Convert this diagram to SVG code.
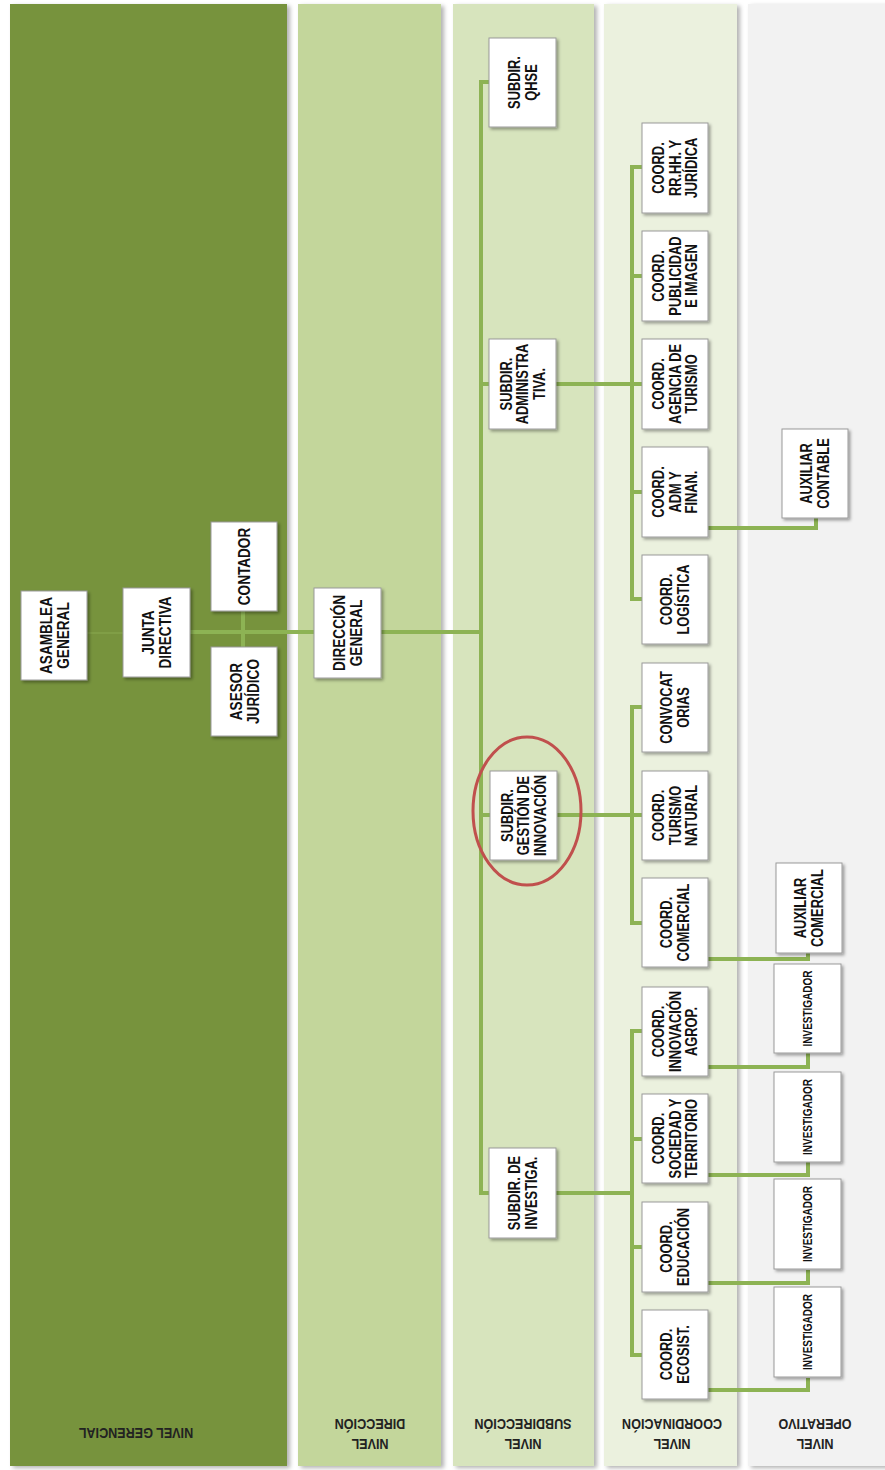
<svg xmlns="http://www.w3.org/2000/svg" width="885" height="1470" viewBox="0 0 885 1470">
<defs>
<filter id="sh" x="-10%" y="-10%" width="130%" height="130%">
<feDropShadow dx="2" dy="2" stdDeviation="1.5" flood-color="#000" flood-opacity="0.35"/>
</filter>
<filter id="shc" x="-5%" y="-1%" width="115%" height="103%">
<feDropShadow dx="3" dy="2" stdDeviation="2" flood-color="#000" flood-opacity="0.3"/>
</filter>
</defs>
<style>
.box{fill:#fff;stroke:#9a9a9a;stroke-width:1;filter:url(#sh)}
.t{font-family:"Liberation Sans",Arial,sans-serif;font-weight:bold;font-size:16.5px;fill:#111;text-anchor:middle;dominant-baseline:central}
.tb{font-size:17px}
.ts{font-size:12.5px}
.lab{font-family:"Liberation Sans",Arial,sans-serif;font-weight:bold;font-size:14px;fill:#222;text-anchor:middle;dominant-baseline:central}
.c{fill:none;stroke:#8db354;stroke-width:4}
.cf{fill:none;stroke:#8aa84f;stroke-width:1.5;opacity:0.7}
</style>

<g id="columns">
<rect x="10" y="4" width="277" height="1462" fill="#77933c" filter="url(#shc)"/>
<rect x="298" y="4" width="143" height="1462" fill="#c3d69b" filter="url(#shc)"/>
<rect x="453" y="4" width="141" height="1462" fill="#d7e4bd" filter="url(#shc)"/>
<rect x="604" y="4" width="133" height="1462" fill="#ebf1de" filter="url(#shc)"/>
<rect x="748" y="4" width="140" height="1462" fill="#f2f2f2" filter="url(#shc)"/>
</g>

<g id="level-labels">
<g transform="translate(136,1433) rotate(180) scale(0.9,1)"><text class="lab" x="0" y="0">NIVEL GERENCIAL</text></g>
<g transform="translate(370,1434) rotate(180) scale(0.9,1)"><text class="lab" x="0" y="-10">NIVEL</text><text class="lab" x="0" y="10">DIRECCIÓN</text></g>
<g transform="translate(523,1434) rotate(180) scale(0.9,1)"><text class="lab" x="0" y="-10">NIVEL</text><text class="lab" x="0" y="10">SUBDIRECCIÓN</text></g>
<g transform="translate(672,1434) rotate(180) scale(0.9,1)"><text class="lab" x="0" y="-10">NIVEL</text><text class="lab" x="0" y="10">COORDINACIÓN</text></g>
<g transform="translate(815,1434) rotate(180) scale(0.9,1)"><text class="lab" x="0" y="-10">NIVEL</text><text class="lab" x="0" y="10">OPERATIVO</text></g>
</g>

<g id="connectors">
<path class="cf" d="M87,633 H123"/>
<path class="c" d="M190,632 H481"/>
<path class="c" d="M243,611 V647"/>
<path class="c" d="M489,82 H481 V1193 H489"/>
<path class="c" d="M481,384 H489 M481,815 H490"/>
<path class="c" d="M556,384 H632"/>
<path class="c" d="M642,167 H632 V599 H642 M632,276 H642 M632,492 H642 M632,384 H642"/>
<path class="c" d="M557,815 H642"/>
<path class="c" d="M642,707 H632 V923 H642"/>
<path class="c" d="M556,1193 H632"/>
<path class="c" d="M642,1031 H632 V1355 H642 M632,1139 H642 M632,1247 H642"/>
<path class="c" d="M708,528 H816 V518"/>
<path class="c" d="M708,959 H808 V953"/>
<path class="c" d="M708,1067 H808 V1053"/>
<path class="c" d="M708,1175 H808 V1162"/>
<path class="c" d="M708,1283 H808 V1270"/>
<path class="c" d="M708,1390 H808 V1378"/>
</g>

<g id="asamblea"><rect class="box" x="21" y="591" width="66" height="89"/>
<g transform="translate(54,635.5) rotate(-90) scale(0.8,1)"><text class="t tb" y="-8.5">ASAMBLEA</text><text class="t tb" y="8.5">GENERAL</text></g></g>

<g id="junta"><rect class="box" x="123" y="588" width="67" height="89"/>
<g transform="translate(156.5,632.5) rotate(-90) scale(0.8,1)"><text class="t tb" y="-8.5">JUNTA</text><text class="t tb" y="8.5">DIRECTIVA</text></g></g>

<g id="contador"><rect class="box" x="211" y="522" width="66" height="89"/>
<g transform="translate(244,566.5) rotate(-90) scale(0.8,1)"><text class="t tb" y="0">CONTADOR</text></g></g>

<g id="asesor"><rect class="box" x="211" y="647" width="66" height="89"/>
<g transform="translate(244,691.5) rotate(-90) scale(0.8,1)"><text class="t tb" y="-8.5">ASESOR</text><text class="t tb" y="8.5">JURÍDICO</text></g></g>

<g id="direccion"><rect class="box" x="314" y="588" width="67" height="90"/>
<g transform="translate(347.5,633) rotate(-90) scale(0.8,1)"><text class="t tb" y="-8.5">DIRECCIÓN</text><text class="t tb" y="8.5">GENERAL</text></g></g>

<g id="subdir-qhse"><rect class="box" x="489" y="38" width="67" height="89"/>
<g transform="translate(522.5,82.5) rotate(-90) scale(0.78,1)"><text class="t" y="-8.5">SUBDIR.</text><text class="t" y="8.5">QHSE</text></g></g>

<g id="subdir-admin"><rect class="box" x="489" y="339" width="67" height="90"/>
<g transform="translate(522.5,384) rotate(-90) scale(0.78,1)"><text class="t" y="-16.5">SUBDIR.</text><text class="t" y="0">ADMINISTRA</text><text class="t" y="16.5">TIVA.</text></g></g>

<g id="coord-rrhh"><rect class="box" x="642" y="123" width="66" height="90"/>
<g transform="translate(675,168) rotate(-90) scale(0.78,1)"><text class="t" y="-16.5">COORD.</text><text class="t" y="0">RR.HH. Y</text><text class="t" y="16.5">JURÍDICA</text></g></g>

<g id="coord-publicidad"><rect class="box" x="642" y="231" width="66" height="90"/>
<g transform="translate(675,276) rotate(-90) scale(0.78,1)"><text class="t" y="-16.5">COORD.</text><text class="t" y="0">PUBLICIDAD</text><text class="t" y="16.5">E IMAGEN</text></g></g>

<g id="coord-agencia"><rect class="box" x="642" y="339" width="66" height="90"/>
<g transform="translate(675,384) rotate(-90) scale(0.78,1)"><text class="t" y="-16.5">COORD.</text><text class="t" y="0">AGENCIA DE</text><text class="t" y="16.5">TURISMO</text></g></g>

<g id="coord-adm"><rect class="box" x="642" y="447" width="66" height="90"/>
<g transform="translate(675,492) rotate(-90) scale(0.78,1)"><text class="t" y="-16.5">COORD.</text><text class="t" y="0">ADM Y</text><text class="t" y="16.5">FINAN.</text></g></g>

<g id="coord-logistica"><rect class="box" x="642" y="555" width="66" height="89"/>
<g transform="translate(675,599.5) rotate(-90) scale(0.78,1)"><text class="t" y="-8.5">COORD.</text><text class="t" y="8.5">LOGÍSTICA</text></g></g>

<g id="aux-contable"><rect class="box" x="782" y="429" width="66" height="89"/>
<g transform="translate(815,473.5) rotate(-90) scale(0.78,1)"><text class="t" y="-8.5">AUXILIAR</text><text class="t" y="8.5">CONTABLE</text></g></g>

<g id="subdir-gestion"><rect class="box" x="490" y="771" width="67" height="89"/>
<g transform="translate(523.5,815.5) rotate(-90) scale(0.78,1)"><text class="t" y="-16.5">SUBDIR.</text><text class="t" y="0">GESTIÓN DE</text><text class="t" y="16.5">INNOVACIÓN</text></g></g>

<g id="convocatorias"><rect class="box" x="642" y="663" width="66" height="89"/>
<g transform="translate(675,707.5) rotate(-90) scale(0.78,1)"><text class="t" y="-8.5">CONVOCAT</text><text class="t" y="8.5">ORIAS</text></g></g>

<g id="coord-turismo"><rect class="box" x="642" y="771" width="66" height="89"/>
<g transform="translate(675,815.5) rotate(-90) scale(0.78,1)"><text class="t" y="-16.5">COORD.</text><text class="t" y="0">TURISMO</text><text class="t" y="16.5">NATURAL</text></g></g>

<g id="coord-comercial"><rect class="box" x="642" y="878" width="66" height="89"/>
<g transform="translate(675,922.5) rotate(-90) scale(0.78,1)"><text class="t" y="-8.5">COORD.</text><text class="t" y="8.5">COMERCIAL</text></g></g>

<g id="aux-comercial"><rect class="box" x="776" y="863" width="66" height="90"/>
<g transform="translate(809,908) rotate(-90) scale(0.78,1)"><text class="t" y="-8.5">AUXILIAR</text><text class="t" y="8.5">COMERCIAL</text></g></g>

<g id="investigador-1"><rect class="box" x="774" y="964" width="67" height="89"/>
<g transform="translate(807.5,1008.5) rotate(-90) scale(0.8,1)"><text class="t ts" y="0">INVESTIGADOR</text></g></g>

<g id="investigador-2"><rect class="box" x="774" y="1072" width="67" height="90"/>
<g transform="translate(807.5,1117) rotate(-90) scale(0.8,1)"><text class="t ts" y="0">INVESTIGADOR</text></g></g>

<g id="investigador-3"><rect class="box" x="774" y="1179" width="67" height="90"/>
<g transform="translate(807.5,1224) rotate(-90) scale(0.8,1)"><text class="t ts" y="0">INVESTIGADOR</text></g></g>

<g id="investigador-4"><rect class="box" x="774" y="1287" width="67" height="90"/>
<g transform="translate(807.5,1332) rotate(-90) scale(0.8,1)"><text class="t ts" y="0">INVESTIGADOR</text></g></g>

<g id="coord-innovacion"><rect class="box" x="642" y="987" width="66" height="89"/>
<g transform="translate(675,1031.5) rotate(-90) scale(0.78,1)"><text class="t" y="-16.5">COORD.</text><text class="t" y="0">INNOVACIÓN</text><text class="t" y="16.5">AGROP.</text></g></g>

<g id="coord-sociedad"><rect class="box" x="642" y="1094" width="66" height="89"/>
<g transform="translate(675,1138.5) rotate(-90) scale(0.78,1)"><text class="t" y="-16.5">COORD.</text><text class="t" y="0">SOCIEDAD Y</text><text class="t" y="16.5">TERRITORIO</text></g></g>

<g id="coord-educacion"><rect class="box" x="642" y="1202" width="66" height="90"/>
<g transform="translate(675,1247) rotate(-90) scale(0.78,1)"><text class="t" y="-8.5">COORD.</text><text class="t" y="8.5">EDUCACIÓN</text></g></g>

<g id="coord-ecosist"><rect class="box" x="642" y="1310" width="66" height="89"/>
<g transform="translate(675,1354.5) rotate(-90) scale(0.78,1)"><text class="t" y="-8.5">COORD.</text><text class="t" y="8.5">ECOSIST.</text></g></g>

<g id="subdir-investiga"><rect class="box" x="489" y="1148" width="67" height="90"/>
<g transform="translate(522.5,1193) rotate(-90) scale(0.78,1)"><text class="t" y="-8.5">SUBDIR. DE</text><text class="t" y="8.5">INVESTIGA.</text></g></g>

<g id="highlight"><ellipse cx="527" cy="811" rx="54" ry="74" fill="none" stroke="#c0504d" stroke-width="3"/></g>
</svg>
